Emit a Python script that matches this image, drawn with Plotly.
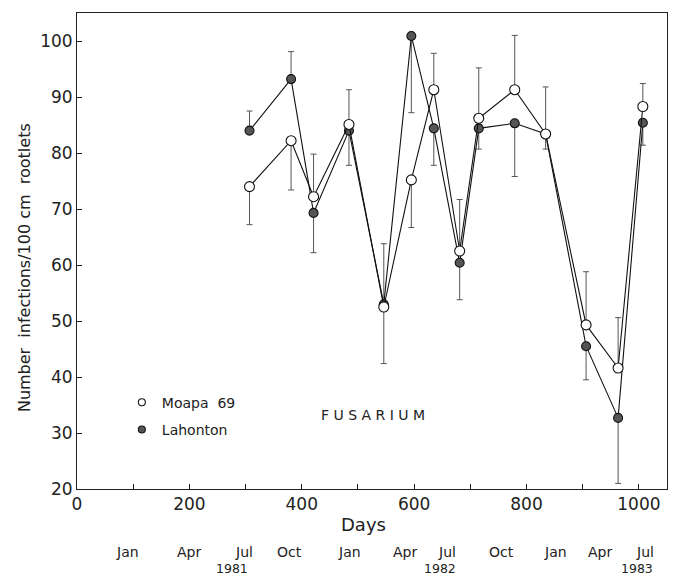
import plotly.graph_objects as go

# ---- data ----
days = [307, 381, 421, 484, 546, 595, 635, 681, 715, 779, 834, 906, 963, 1007]
moapa = [74.0, 82.2, 72.2, 85.1, 52.5, 75.2, 91.3, 62.5, 86.2, 91.3, 83.4, 49.3, 41.6, 88.3]
lahonton = [84.0, 93.2, 69.3, 84.0, 53.0, 100.9, 84.4, 60.4, 84.4, 85.3, 83.4, 45.5, 32.7, 85.4]

moapa_err_plus = [0, 0, 7.6, 6.2, 0, 0, 6.5, 9.2, 9.0, 9.7, 8.4, 9.5, 9.0, 4.1]
moapa_err_minus = [6.8, 8.8, 0, 0, 10.1, 8.5, 0, 0, 0, 0, 0, 0, 0, 0]
lah_err_plus = [3.5, 4.9, 0, 0, 10.8, 0, 0, 0, 0, 0, 0, 0, 0, 0]
lah_err_minus = [0, 0, 7.1, 6.2, 0, 13.7, 6.6, 6.6, 3.7, 9.5, 2.7, 6.0, 11.7, 4.0]

x_tickvals = [0, 100, 200, 300, 400, 500, 600, 700, 800, 900, 1000]
x_ticktext = ["0", "", "200", "", "400", "", "600", "", "800", "", "1000"]
y_tickvals = [20, 30, 40, 50, 60, 70, 80, 90, 100]

month_labels = ["Jan", "Apr", "Jul", "Oct", "Jan", "Apr", "Jul", "Oct", "Jan", "Apr", "Jul"]
month_days = [90, 200, 298, 378, 485, 583, 658, 756, 851, 931, 1011]
year_labels = ["1981", "1982", "1983"]
year_days = [275, 646, 997]

FONT = "DejaVu Sans"
TXT = "#222"

fig = go.Figure()

fig.add_trace(go.Scatter(
    x=days, y=lahonton, mode="lines+markers", name="Lahonton", showlegend=False,
    line=dict(color="#111", width=1.1),
    marker=dict(symbol="circle", size=9, color="#555", line=dict(color="#111", width=1.1)),
    error_y=dict(type="data", symmetric=False, array=lah_err_plus, arrayminus=lah_err_minus,
                 color="#555", thickness=1, width=3),
))
fig.add_trace(go.Scatter(
    x=days, y=moapa, mode="lines+markers", name="Moapa 69", showlegend=False,
    line=dict(color="#111", width=1.1),
    marker=dict(symbol="circle", size=10, color="white", line=dict(color="#111", width=1.1)),
    error_y=dict(type="data", symmetric=False, array=moapa_err_plus, arrayminus=moapa_err_minus,
                 color="#555", thickness=1, width=3),
))

# legend-only entries
fig.add_trace(go.Scatter(
    x=[None], y=[None], mode="markers", name="Moapa  69", legendgroup="a",
    marker=dict(symbol="circle", size=7, color="white", line=dict(color="#111", width=1.1)),
))
fig.add_trace(go.Scatter(
    x=[None], y=[None], mode="markers", name="Lahonton", legendgroup="b",
    marker=dict(symbol="circle", size=7, color="#555", line=dict(color="#111", width=1.1)),
))

annotations = []
for lab, d in zip(month_labels, month_days):
    annotations.append(dict(x=d, y=-0.132, xref="x", yref="paper", text=lab, showarrow=False,
                            xanchor="center", yanchor="middle",
                            font=dict(family=FONT, size=14, color=TXT)))
for lab, d in zip(year_labels, year_days):
    annotations.append(dict(x=d, y=-0.168, xref="x", yref="paper", text=lab, showarrow=False,
                            xanchor="center", yanchor="middle",
                            font=dict(family=FONT, size=12.5, color=TXT)))
annotations.append(dict(x=0.485, y=-0.0756, xref="paper", yref="paper", text="Days", showarrow=False,
                        xanchor="center", yanchor="middle",
                        font=dict(family=FONT, size=18, color=TXT)))
annotations.append(dict(x=-0.090, y=0.466, xref="paper", yref="paper",
                        text="Number  infections/100 cm  rootlets", textangle=-90, showarrow=False,
                        xanchor="center", yanchor="middle",
                        font=dict(family=FONT, size=16, color=TXT)))
annotations.append(dict(x=0.501, y=0.155, xref="paper", yref="paper", text="F U S A R I U M",
                        showarrow=False, xanchor="center", yanchor="middle",
                        font=dict(family=FONT, size=14, color=TXT)))

# page body has an 8px default margin: size the figure so the plot lands where the reference has it
fig.update_layout(
    width=670, height=570,
    margin=dict(l=69, r=11, t=5, b=89),
    paper_bgcolor="white", plot_bgcolor="white",
    font=dict(family=FONT, color=TXT),
    showlegend=True,
    legend=dict(x=0.076, y=0.215, xanchor="left", yanchor="top",
                font=dict(family=FONT, size=14, color=TXT),
                bgcolor="rgba(0,0,0,0)", traceorder="grouped", tracegroupgap=6),
    annotations=annotations,
    xaxis=dict(range=[0, 1050], tickvals=x_tickvals, ticktext=x_ticktext,
               ticks="inside", ticklen=5, tickcolor="#222", showgrid=False, zeroline=False,
               showline=True, linecolor="#222", linewidth=1, mirror=True,
               tickfont=dict(family=FONT, size=17, color=TXT)),
    yaxis=dict(range=[20, 105], tickvals=y_tickvals,
               ticks="inside", ticklen=5, tickcolor="#222", showgrid=False, zeroline=False,
               showline=True, linecolor="#222", linewidth=1, mirror=True,
               tickfont=dict(family=FONT, size=17, color=TXT)),
)

fig.write_html("out.html")
